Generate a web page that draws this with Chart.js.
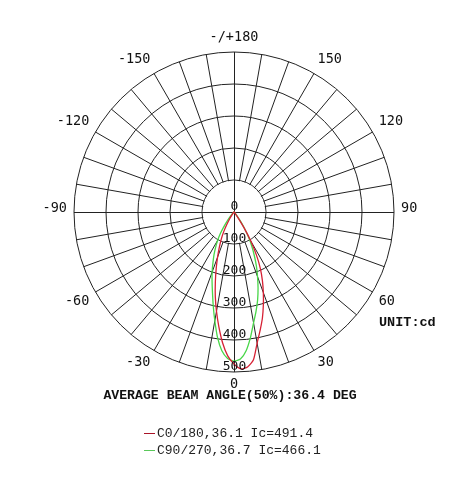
<!DOCTYPE html>
<html>
<head>
<meta charset="utf-8">
<script src="https://cdn.jsdelivr.net/npm/chart.js@4/dist/chart.umd.min.js"></script>
<style>
  html, body { margin: 0; padding: 0; background: #fff; }
  #wrap { width: 476px; height: 488px; }
</style>
</head>
<body>
<div id="wrap"><canvas id="polarChart" width="476" height="488"></canvas></div>
<script>
// gamma angle (deg) of each reading, 0 = straight down, + to the right
const gammaAngles = [-50, -47.5, -45, -42.5, -40, -37.5, -35, -32.5, -30, -27.5,
                     -25, -22.5, -20, -17.5, -15, -12.5, -10, -7.5, -5, -2.5, 0,
                     2.5, 5, 7.5, 10, 12.5, 15, 17.5, 20, 22.5, 25,
                     27.5, 30, 32.5, 35, 37.5, 40, 42.5, 45, 47.5, 50];
// candela readings, C0/180 plane
const c0_180 = [0, 0, 1, 2, 4, 7, 13, 25, 45, 70,
                95, 120, 150, 185, 225, 270, 315, 362, 410, 450, 475,
                491, 486, 466, 416, 378, 343, 305, 268, 232, 195,
                152, 105, 58, 24, 9, 4, 2, 1, 0, 0];
// candela readings, C90/270 plane
const c90_270 = [0, 1, 4, 10, 18, 32, 52, 78, 102, 124,
                 148, 172, 200, 228, 260, 300, 345, 395, 435, 458, 466,
                 460, 435, 395, 352, 318, 285, 250, 215, 183, 150,
                 120, 92, 62, 36, 18, 8, 3, 1, 0, 0];

const valueTicks = [0, 100, 200, 300, 400, 500];
const angleTicks = [-150, -120, -90, -60, -30, 0, 30, 60, 90, 120, 150, 180];
const seriesNames = ['C0/180,36.1 Ic=491.4', 'C90/270,36.7 Ic=466.1'];
const seriesColors = ['rgb(214, 32, 52)', 'rgb(72, 214, 72)'];
const legendColors = ['rgb(170, 20, 40)', 'rgb(90, 200, 90)'];
const beamTitle = 'AVERAGE BEAM ANGLE(50%):36.4 DEG';
const unitLabel = 'UNIT:cd';

const STEP = 2.5;
// radar spokes run clockwise from the bottom: 0, -2.5 ... -180, 177.5 ... 2.5
const labels = [];
for (let i = 0; i < 360 / STEP; i++) {
    let g = -i * STEP;
    if (g < -180) g += 360;
    labels.push(g);
}

function onSpokes(values) {
    return labels.map(g => {
        const k = gammaAngles.indexOf(g);
        return k === -1 ? 0 : values[k];
    });
}

const polarDecor = {
    id: 'polarDecor',
    beforeDatasetsDraw(chart) {
        const r = chart.scales.r;
        const ctx = chart.ctx;
        const inner = r.getDistanceFromCenterForValue(valueTicks[1]);
        const R = r.drawingArea;
        const cx = r.xCenter + 0.5;
        const cy = r.yCenter + 0.5;
        ctx.save();
        // spokes stop at the first ring
        ctx.fillStyle = '#fff';
        ctx.beginPath();
        ctx.arc(r.xCenter, r.yCenter, inner - 0.7, 0, Math.PI * 2);
        ctx.fill();
        // cross axes
        ctx.strokeStyle = '#222';
        ctx.lineWidth = 1;
        ctx.beginPath();
        ctx.moveTo(r.xCenter - R, cy);
        ctx.lineTo(r.xCenter + R, cy);
        ctx.moveTo(cx, r.yCenter - R);
        ctx.lineTo(cx, r.yCenter + R);
        ctx.stroke();
        ctx.restore();
    },
    afterDraw(chart) {
        const r = chart.scales.r;
        const ctx = chart.ctx;
        const R = r.drawingArea;
        ctx.save();
        ctx.fillStyle = '#111';
        ctx.textBaseline = 'middle';

        // angle labels round the outside
        ctx.font = '13.5px "DejaVu Sans Mono"';
        angleTicks.forEach(a => {
            const text = a === 180 ? '-/+180' : String(a);
            const idx = labels.indexOf(a === 180 ? -180 : a);
            const rad = a * Math.PI / 180;
            const s = Math.sin(rad), c = Math.cos(rad);
            const p = r.getPointPosition(idx, R + 7);
            ctx.textAlign = s > 0.01 ? 'left' : (s < -0.01 ? 'right' : 'center');
            const dy = c > 0.01 ? 5.5 : (c < -0.01 ? -7.5 : -4);
            ctx.fillText(text, p.x, p.y + dy);
        });

        // candela values down the 0 spoke
        ctx.font = '13px "DejaVu Sans Mono"';
        ctx.textAlign = 'center';
        valueTicks.forEach(v => {
            const d = r.getDistanceFromCenterForValue(v);
            ctx.fillText(String(v), r.xCenter + 0.5, r.yCenter + d - 5.5);
        });

        ctx.font = 'bold 13.5px "Liberation Mono"';
        ctx.textAlign = 'left';
        ctx.fillText(unitLabel, 379, 323);

        ctx.font = 'bold 13.2px "Liberation Mono"';
        ctx.textAlign = 'center';
        ctx.fillText(beamTitle, 230, 396);

        // legend
        ctx.font = '13px "Liberation Mono"';
        ctx.textAlign = 'left';
        ctx.textBaseline = 'alphabetic';
        seriesNames.forEach((name, i) => {
            const y = 433 + i * 17;
            ctx.strokeStyle = legendColors[i];
            ctx.lineWidth = 1;
            ctx.beginPath();
            ctx.moveTo(144, y + 0.5);
            ctx.lineTo(155, y + 0.5);
            ctx.stroke();
            ctx.fillStyle = '#222';
            ctx.fillText(name, 157, y + 3.5);
        });
        ctx.restore();
    }
};

window.addEventListener('load', () => {
    const ctx = document.getElementById('polarChart').getContext('2d');
    new Chart(ctx, {
        type: 'radar',
        data: {
            labels: labels,
            datasets: [{
                label: seriesNames[0],
                data: onSpokes(c0_180),
                borderColor: seriesColors[0],
                borderWidth: 1.3,
                fill: false,
                pointRadius: 0,
                tension: 0.2
            }, {
                label: seriesNames[1],
                data: onSpokes(c90_270),
                borderColor: seriesColors[1],
                borderWidth: 1.3,
                fill: false,
                pointRadius: 0,
                tension: 0.2
            }]
        },
        options: {
            responsive: false,
            animation: false,
            layout: {
                padding: { left: 74, top: 52, right: 82, bottom: 116 }
            },
            plugins: {
                legend: { display: false },
                tooltip: { enabled: false }
            },
            scales: {
                r: {
                    min: valueTicks[0],
                    max: valueTicks[valueTicks.length - 1],
                    startAngle: 180,
                    ticks: { display: false, stepSize: 100 },
                    pointLabels: { display: false },
                    grid: { circular: true, color: '#222', lineWidth: 1 },
                    angleLines: {
                        display: true,
                        color: '#222',
                        // one spoke every 10 deg; 0/90/180 are the drawn cross
                        lineWidth: c => (c.index % 4 === 0 && c.index % 36 !== 0 ? 1 : 0)
                    }
                }
            }
        },
        plugins: [polarDecor]
    });
});
</script>
</body>
</html>
